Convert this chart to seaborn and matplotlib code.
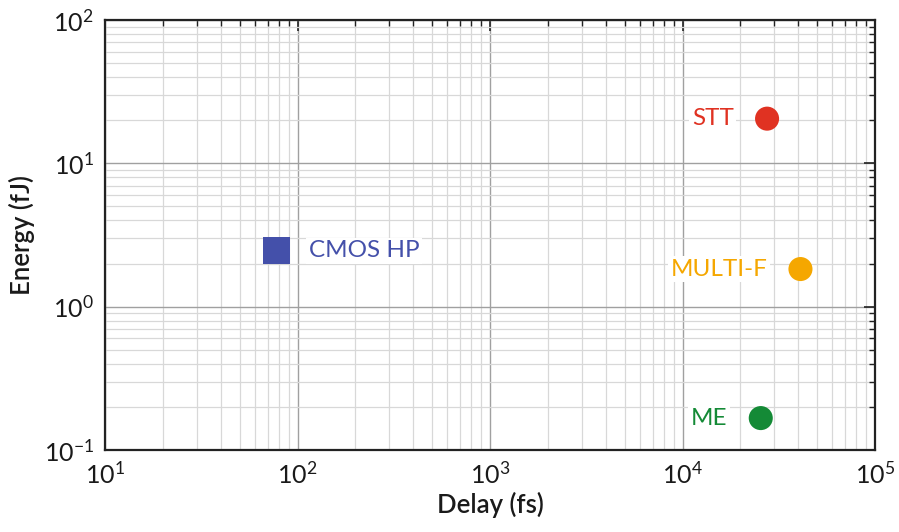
import matplotlib
matplotlib.use("Agg")
import matplotlib.pyplot as plt
import seaborn as sns
import pandas as pd

names = ["CMOS HP", "STT", "MULTI-F", "ME"]
delay_fs = [78, 27500, 41000, 25500]
energy_fJ = [2.45, 20.5, 1.83, 0.167]
colors = ["#4450AA", "#E03222", "#F5A700", "#148A36"]
markers = ["s", "o", "o", "o"]
label_side = ["right", "left", "left", "left"]

sns.set_theme(style="white")
plt.rcParams['font.family'] = ['Lato', 'DejaVu Sans']
plt.rcParams['mathtext.fontset'] = 'custom'
plt.rcParams['mathtext.rm'] = 'Lato'
plt.rcParams['mathtext.it'] = 'Lato:italic'
plt.rcParams['mathtext.bf'] = 'Lato:bold'

df = pd.DataFrame({"name": names, "delay": delay_fs, "energy": energy_fJ})

fig = plt.figure(figsize=(8.99, 5.32), dpi=100)
ax = fig.add_axes([105/899, 1-450/532, (875-105)/899, (450-20)/532])

for i, row in df.iterrows():
    sns.scatterplot(x=[row.delay], y=[row.energy], ax=ax, color=colors[i],
                    marker=markers[i], s=380 if markers[i] == "s" else 300,
                    edgecolor="none", zorder=5)
    if label_side[i] == "right":
        ax.annotate(row["name"], (row.delay, row.energy), xytext=(23, 0),
                    textcoords="offset points", ha="left", va="center",
                    color=colors[i], fontsize=17.5,
                    bbox=dict(facecolor="white", edgecolor="none", pad=2), zorder=6)
    else:
        ax.annotate(row["name"], (row.delay, row.energy), xytext=(-24, 0),
                    textcoords="offset points", ha="right", va="center",
                    color=colors[i], fontsize=17.5,
                    bbox=dict(facecolor="white", edgecolor="none", pad=2), zorder=6)

ax.set_xscale("log")
ax.set_yscale("log")
ax.set_xlim(10, 1e5)
ax.set_ylim(0.1, 100)
ax.grid(True, which="major", color="#a0a0a0", linewidth=1.0)
ax.grid(True, which="minor", color="#d8d8d8", linewidth=0.9)
ax.set_axisbelow(True)
ax.tick_params(which="both", direction="in", top=True, right=True, color="#222222")
ax.tick_params(which="major", length=8, width=1.2, labelsize=18, pad=8, labelcolor="#1a1a1a")
ax.tick_params(which="minor", length=4, width=1.0)
for s in ax.spines.values():
    s.set_color("#222222")
    s.set_linewidth(1.6)
ax.set_xlabel("Delay (fs)", fontsize=18.5, fontweight="semibold", labelpad=3, color="#1a1a1a")
ax.set_ylabel("Energy (fJ)", fontsize=18.5, fontweight="semibold", labelpad=6, color="#1a1a1a")

fig.savefig("out.png", dpi=100)
